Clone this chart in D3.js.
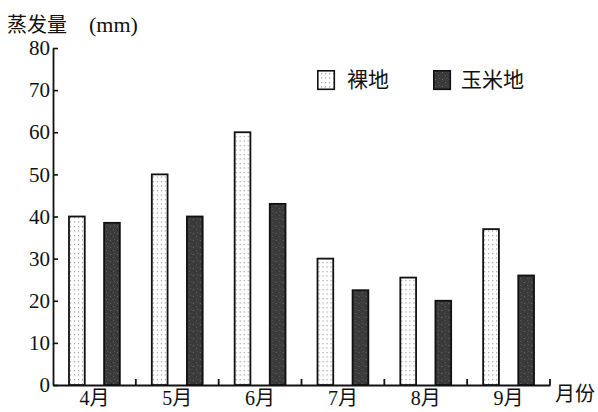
<!DOCTYPE html>
<html><head><meta charset="utf-8">
<script src="https://cdn.jsdelivr.net/npm/d3@7"></script>
<style>
html,body{margin:0;padding:0;background:#fff;}
svg{display:block;}
</style></head>
<body>
<script>
const months = ["4月","5月","6月","7月","8月","9月"];
const seriesNames = ["裸地","玉米地"];
const bareValues = [40, 50, 60, 30, 25.5, 37];
const cornValues = [38.5, 40, 43, 22.5, 20, 26];
const yTicks = [0,10,20,30,40,50,60,70,80];
const yTitle = "蒸发量";
const yUnit = "(mm)";
const xTitle = "月份";

const W = 598, H = 412;
const svg = d3.select("body").append("svg").attr("width", W).attr("height", H);

const defs = svg.append("defs");
const dots = defs.append("pattern").attr("id","dots").attr("patternUnits","userSpaceOnUse")
  .attr("width",4).attr("height",4.5);
dots.append("rect").attr("width",4).attr("height",4.5).attr("fill","#fff");
dots.append("rect").attr("x",1).attr("y",1).attr("width",1.1).attr("height",1.1).attr("fill","#888");
const dark = defs.append("pattern").attr("id","dark").attr("patternUnits","userSpaceOnUse")
  .attr("width",7).attr("height",7);
dark.append("rect").attr("width",7).attr("height",7).attr("fill","#3b3b3b");
dark.append("rect").attr("x",1).attr("y",2).attr("width",1).attr("height",1).attr("fill","#6a6a6a");
dark.append("rect").attr("x",4).attr("y",5).attr("width",1).attr("height",1).attr("fill","#5e5e5e");
dark.append("rect").attr("x",5).attr("y",1).attr("width",1).attr("height",1).attr("fill","#555");
dark.append("rect").attr("x",2).attr("y",5).attr("width",1).attr("height",1).attr("fill","#2a2a2a");

const x0 = 53, x1 = 550, yBase = 385, yTop = 48;
const x = d3.scaleBand().domain(months).range([x0, x1]).paddingInner(0).paddingOuter(0);
const xs = d3.scaleBand().domain(seriesNames).range([0, x.bandwidth()]).paddingInner(0.5).paddingOuter(0.43);
const y = d3.scaleLinear().domain([0, 80]).range([yBase, yTop]);

const serif = "'Liberation Serif','Times New Roman','Noto Sans CJK SC',serif";
const cjk = "'Noto Sans CJK SC','Liberation Serif',serif";

// y axis
const yAxis = d3.axisLeft(y).tickValues(yTicks).tickSizeInner(-5).tickSizeOuter(0).tickPadding(3).tickFormat(d3.format("d"));
const gy = svg.append("g").attr("transform", `translate(${x0},0)`).call(yAxis);
gy.select(".domain").attr("stroke","#111").attr("stroke-width",1.8);
gy.selectAll(".tick line").attr("stroke","#111").attr("stroke-width",1.6);
gy.selectAll(".tick text").attr("font-family", serif).attr("font-size", 21).attr("fill","#111");

// x axis line + boundary ticks
const xAxis = d3.axisBottom(x).tickSize(0).tickPadding(6);
const gx = svg.append("g").attr("transform", `translate(0,${yBase})`).call(xAxis);
gx.select(".domain").attr("stroke","#111").attr("stroke-width",1.8);
gx.selectAll(".tick text").attr("font-family", serif).attr("font-size", 20).attr("fill","#111").attr("dy","0.72em");
gx.selectAll(".bound").data(months).enter().append("line")
  .attr("x1", d => x(d) + x.bandwidth()).attr("x2", d => x(d) + x.bandwidth())
  .attr("y1", 0).attr("y2", -6).attr("stroke","#111").attr("stroke-width",1.8);

svg.append("text").attr("x", 555).attr("y", 401).attr("font-family", cjk).attr("font-size", 20)
  .attr("fill","#111").text(xTitle);

// title
const t = svg.append("text").attr("y", 32).attr("fill","#111");
t.append("tspan").attr("x", 7).attr("font-family", cjk).attr("font-size", 20).text(yTitle);
t.append("tspan").attr("x", 89).attr("font-family", serif).attr("font-size", 22).text(yUnit);

// bars
const rows = months.map((m, i) => ({ m, vals: [bareValues[i], cornValues[i]] }));
const grp = svg.selectAll(".grp").data(rows).enter().append("g").attr("transform", d => `translate(${x(d.m)},0)`);
grp.selectAll("rect").data(d => d.vals.map((v, j) => ({ s: seriesNames[j], v }))).enter().append("rect")
  .attr("x", d => xs(d.s) + 0.9).attr("width", xs.bandwidth() - 1.8)
  .attr("y", d => y(d.v)).attr("height", d => yBase - y(d.v))
  .attr("fill", d => d.s === seriesNames[0] ? "url(#dots)" : "url(#dark)")
  .attr("stroke", "#111").attr("stroke-width", 1.8);

// legend
const leg = svg.append("g");
const legItems = [{ s: seriesNames[0], x: 317, tx: 347 }, { s: seriesNames[1], x: 433, tx: 461 }];
leg.selectAll("rect").data(legItems).enter().append("rect")
  .attr("x", d => d.x + 0.8).attr("y", 70.8).attr("width", 16.5).attr("height", 18.5)
  .attr("fill", d => d.s === seriesNames[0] ? "url(#dots)" : "url(#dark)")
  .attr("stroke", "#111").attr("stroke-width", 1.6);
leg.selectAll("text").data(legItems).enter().append("text")
  .attr("x", d => d.tx).attr("y", 87).attr("font-family", cjk).attr("font-size", 21)
  .attr("fill","#111").text(d => d.s);
</script>
</body></html>
